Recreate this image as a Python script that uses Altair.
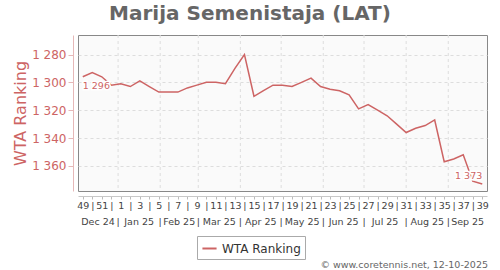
import altair as alt
import pandas as pd

# ---- data -------------------------------------------------------------
weeks = [49, 50, 51, 52] + list(range(1, 40))
ranking = [1296, 1293, 1296, 1302, 1301, 1303, 1299, 1303, 1307, 1307,
           1307, 1304, 1302, 1300, 1300, 1301, 1290, 1280, 1310, 1306,
           1302, 1302, 1303, 1300, 1297, 1303, 1305, 1306, 1309, 1319,
           1316, 1320, 1324, 1330, 1336, 1333, 1331, 1327, 1357, 1355,
           1352, 1371, 1373]
first_date = "2024-12-06"
month_labels = ["Dec 24", "Jan 25", "Feb 25", "Mar 25", "Apr 25", "May 25",
                "Jun 25", "Jul 25", "Aug 25", "Sep 25"]
month_starts = ["2025-01-01", "2025-02-01", "2025-03-01", "2025-04-01",
                "2025-05-01", "2025-06-01", "2025-07-01", "2025-08-01",
                "2025-09-01"]
y_ticks = [1280, 1300, 1320, 1340, 1360]
series_name = "WTA Ranking"
title_text = "Marija Semenistaja (LAT)"
footer_text = "\u00a9 www.coretennis.net, 12-10-2025"

# ---- derived tables ---------------------------------------------------
RED = "#cd6464"
PINK = "#e6b8b8"
FONT = "DejaVu Sans"
x_dom = [-3.5, 297.5]

t0 = pd.Timestamp(first_date)
days = [7 * i for i in range(len(weeks))]
df = pd.DataFrame({"day": days, "rank": ranking, "series": series_name})

bounds = [(pd.Timestamp(m) - t0).days for m in month_starts]
edges = [x_dom[0]] + bounds + [x_dom[1]]
centers = [(edges[i] + edges[i + 1]) / 2 for i in range(len(month_labels))]
months_df = pd.DataFrame({"day": centers, "label": month_labels})
sep_df = pd.DataFrame({"day": bounds, "label": ["|"] * len(bounds)})

ann_first = pd.DataFrame({"day": [days[0]], "rank": [ranking[0]],
                          "label": ["{:,}".format(ranking[0]).replace(",", " ")]})
ann_last = pd.DataFrame({"day": [days[-1]], "rank": [ranking[-1]],
                         "label": ["{:,}".format(ranking[-1]).replace(",", " ")]})

week_lbls = [str(w) if w % 2 == 1 else "|" for w in weeks]
lbl_js = "[" + ",".join("'" + s + "'" for s in week_lbls) + "]"

X = alt.X(
    "day:Q",
    scale=alt.Scale(domain=x_dom, nice=False, zero=False),
    axis=alt.Axis(
        values=days, labelExpr=lbl_js + "[round(datum.value/7)]",
        title=None, grid=False, offset=5, domainColor="#c8c8c8",
        tickColor="#bbbbbb", tickSize=3, labelFontSize=9.5, labelFont=FONT,
        labelColor="#444444", labelPadding=1, labelOverlap=False,
        labelFlush=False, labelBound=False,
    ),
)
Y = alt.Y(
    "rank:Q",
    scale=alt.Scale(domain=[1266, 1378], reverse=True, nice=False, zero=False),
    axis=alt.Axis(
        values=y_ticks,
        labelExpr="replace(format(datum.value, ','), ',', ' ')",
        title="WTA Ranking", titleColor=RED, titleFontSize=16,
        titleFontWeight="normal", titleFont=FONT, titlePadding=3,
        labelColor=RED, labelFontSize=12, labelFont=FONT, labelPadding=2,
        domainColor=PINK, tickColor=PINK, tickSize=5, offset=5,
        grid=True, gridColor="#dddddd", gridDash=[3, 3],
    ),
)

vgrid = alt.Chart(sep_df).mark_rule(color="#dddddd", strokeDash=[3, 3]).encode(x=X)

line = alt.Chart(df).mark_line(strokeWidth=1.5).encode(
    x=X, y=Y,
    color=alt.Color("series:N", scale=alt.Scale(range=[RED]),
                    legend=alt.Legend(
                        title=None, orient="none", legendX=119, legendY=201,
                        strokeColor="#aaaaaa", fillColor="white", padding=4,
                        symbolType="stroke", symbolSize=200,
                        symbolStrokeWidth=2, labelFontSize=12, labelFont=FONT,
                        labelColor="#333333", labelOffset=4)),
)


def ann(d, align, baseline, dy):
    halo = alt.Chart(d).mark_text(align=align, baseline=baseline, dy=dy,
                                  fontSize=9.5, font=FONT, stroke="white",
                                  strokeWidth=3, color="white").encode(
        x=X, y=Y, text="label:N")
    txt = alt.Chart(d).mark_text(align=align, baseline=baseline, dy=dy,
                                 fontSize=9.5, font=FONT, color=RED).encode(
        x=X, y=Y, text="label:N")
    return halo + txt


months = alt.Chart(months_df).mark_text(
    fontSize=9.5, font=FONT, color="#444444", baseline="middle").encode(
    x=X, y=alt.value(187), text="label:N")
seps = alt.Chart(sep_df).mark_text(
    fontSize=9.5, font=FONT, color="#444444", baseline="middle").encode(
    x=X, y=alt.value(187), text="label:N")

title = alt.Chart(pd.DataFrame({"t": [title_text]})).mark_text(
    align="center", baseline="alphabetic", fontSize=20, font=FONT,
    fontWeight="bold", color="#666666").encode(
    x=alt.value(172), y=alt.value(-15.5), text="t:N")

footer = alt.Chart(pd.DataFrame({"t": [footer_text]})).mark_text(
    align="right", baseline="middle", fontSize=9.5, font=FONT,
    color="#666666").encode(x=alt.value(410), y=alt.value(230), text="t:N")

chart = alt.layer(
    vgrid, line,
    ann(ann_first, "left", "top", 4),
    ann(ann_last, "right", "bottom", -3),
    months, seps, title, footer,
).properties(
    width=409, height=156,
    autosize=alt.AutoSizeParams(type="none"),
    padding={"left": 78, "top": 35, "right": 13, "bottom": 79},
    background="white",
).configure_view(fill="#fafafa", stroke="#888888", strokeWidth=1)

chart.save("out.html", embed_options={"renderer": "svg", "actions": False})
